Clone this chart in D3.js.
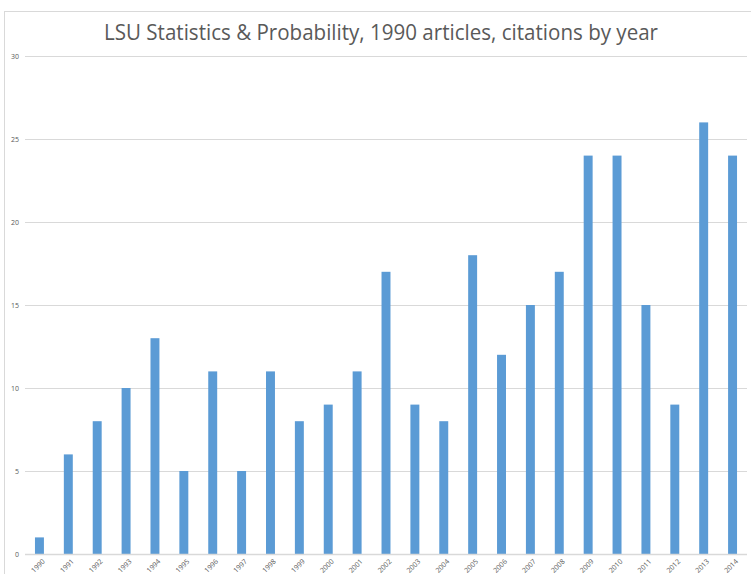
<!DOCTYPE html>
<html>
<head>
<meta charset="utf-8">
<script src="https://cdn.jsdelivr.net/npm/d3@7/dist/d3.min.js"></script>
<style>
html,body{margin:0;padding:0;background:#fff;}
svg{display:block;}
</style>
</head>
<body>
<svg id="chart" width="751" height="574"></svg>
<script>
const years = ["1990","1991","1992","1993","1994","1995","1996","1997","1998","1999","2000","2001","2002","2003","2004","2005","2006","2007","2008","2009","2010","2011","2012","2013","2014"];
const citations = [1,6,8,10,13,5,11,5,11,8,9,11,17,9,8,18,12,15,17,24,24,15,9,26,24];
const yTicks = [0,5,10,15,20,25,30];
const titleText = "LSU Statistics & Probability, 1990 articles, citations by year";

const svg = d3.select("#chart");
const W = 751, H = 574;
const m = {left: 25, right: 4, top: 56, bottom: 20};

// chart area border
svg.append("rect")
  .attr("x", 4.5).attr("y", 11.5)
  .attr("width", 800).attr("height", 600)
  .attr("fill", "none").attr("stroke", "#d9d9d9").attr("stroke-width", 1);

const x = d3.scaleBand().domain(years).range([25, 747]).paddingInner(0.69).paddingOuter(0.345);
const y = d3.scaleLinear().domain([0, 30]).range([554, 56]);

// gridlines
svg.append("g").selectAll("line").data(yTicks.filter(d => d > 0)).join("line")
  .attr("x1", 25).attr("x2", 747)
  .attr("y1", d => Math.round(y(d)) + 0.5).attr("y2", d => Math.round(y(d)) + 0.5)
  .attr("stroke", "#d9d9d9").attr("stroke-width", 1);

// bars
svg.append("g").selectAll("rect").data(years).join("rect")
  .attr("x", d => x(d))
  .attr("width", x.bandwidth())
  .attr("y", (d, i) => y(citations[i]))
  .attr("height", (d, i) => y(0) - y(citations[i]))
  .attr("fill", "#5b9bd5");

// baseline axis
svg.append("line")
  .attr("x1", 25).attr("x2", 747)
  .attr("y1", y(0) + 0.5).attr("y2", y(0) + 0.5)
  .attr("stroke", "#d9d9d9").attr("stroke-width", 1.5);

// y axis labels
const yAxis = d3.axisLeft(y).tickValues(yTicks).tickSize(0).tickPadding(0);
const gy = svg.append("g").attr("transform", "translate(19,0)").call(yAxis);
gy.select(".domain").remove();
gy.selectAll("text")
  .attr("fill", "#595959")
  .style("font-family", "'Open Sans', 'Liberation Sans', sans-serif")
  .style("font-size", "7px");

// x axis labels
const xAxis = d3.axisBottom(x).tickSize(0).tickPadding(0);
const gx = svg.append("g").attr("transform", "translate(0,559)").call(xAxis);
gx.select(".domain").remove();
gx.selectAll("text")
  .attr("fill", "#595959")
  .style("font-family", "'Open Sans', 'Liberation Sans', sans-serif")
  .style("font-size", "7px")
  .attr("text-anchor", "end")
  .attr("dy", "0.6em")
  .attr("transform", "translate(3,0) rotate(-45)");

// title
svg.append("text")
  .attr("x", 381).attr("y", 40)
  .attr("text-anchor", "middle")
  .attr("fill", "#595959")
  .style("font-family", "'Open Sans', 'Liberation Sans', sans-serif")
  .style("font-size", "21px")
  .attr("textLength", 554)
  .attr("lengthAdjust", "spacingAndGlyphs")
  .text(titleText);
</script>
</body>
</html>
